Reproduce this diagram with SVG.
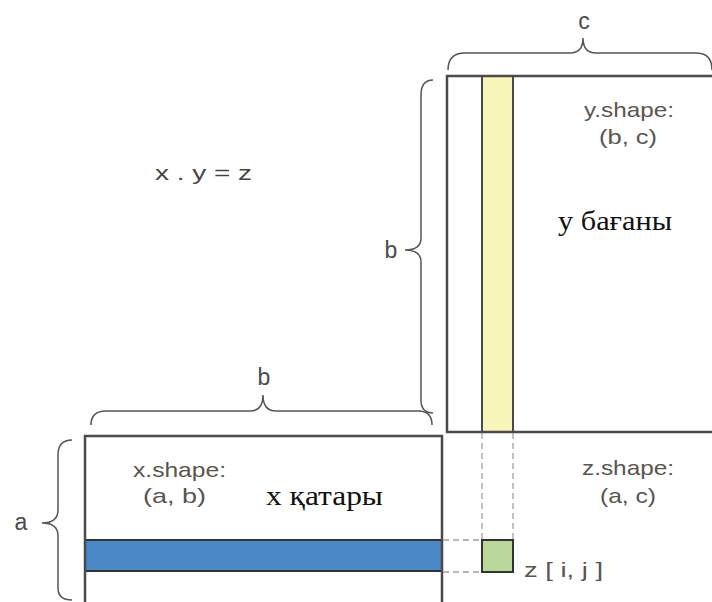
<svg xmlns="http://www.w3.org/2000/svg" width="712" height="602" viewBox="0 0 712 602">
<style>
.brace{fill:none;stroke:#555;stroke-width:1.5}
.frame{fill:none;stroke:#4a4a4a;stroke-width:2.5}
.lbl{font-family:"Liberation Sans",Arial,sans-serif;font-size:21px;fill:#5a5550}
.dim{font-family:"Liberation Sans",Arial,sans-serif;font-size:23px;fill:#4a4a4a;text-anchor:middle}
.ser{font-family:"Liberation Serif","Times New Roman",serif;font-size:27px;fill:#111}
.dash{fill:none;stroke:#a0a0a0;stroke-width:1.3;stroke-dasharray:6,4}
</style>
<rect width="712" height="602" fill="#fff"/>
<text x="155" y="180" class="lbl" style="fill:#444" textLength="97" lengthAdjust="spacingAndGlyphs">x . y = z</text>
<g id="braces">
<path class="brace" d="M448,70 Q448,53 465,53 L570,53 Q583,53 583,38 Q583,53 596,53 L696,53 Q712,53 712,70"/>
<text x="584" y="29" class="dim">c</text>
<path class="brace" d="M433,80 Q421,80 421,95 L421,238 Q421,250 405,250 Q421,250 421,262 L421,400 Q421,413 433,413"/>
<text x="391" y="258" class="dim">b</text>
<path class="brace" d="M91,425 Q91,411 106,411 L250,411 Q263,411 263,395 Q263,411 276,411 L418,411 Q432,411 432,425"/>
<text x="264" y="385" class="dim">b</text>
<path class="brace" d="M72,440 Q58,440 58,455 L58,510 Q58,523 42,523 Q58,523 58,536 L58,588 Q58,600 72,600"/>
<text x="21" y="530" class="dim">a</text>
</g>
<g id="y">
<rect x="482" y="76" width="31" height="356" fill="#f7f5b8" stroke="#4a4a4a" stroke-width="2"/>
<path class="frame" d="M712,76 L447,76 L447,432 L712,432"/>
<text x="584" y="117" class="lbl" textLength="90" lengthAdjust="spacingAndGlyphs">y.shape:</text>
<text x="599" y="144" class="lbl" textLength="58" lengthAdjust="spacingAndGlyphs">(b, c)</text>
<text x="558" y="230" class="ser" textLength="114" lengthAdjust="spacingAndGlyphs">у бағаны</text>
</g>
<g id="x">
<rect x="85" y="540" width="357" height="31" fill="#4a88c7" stroke="#333" stroke-width="2"/>
<path class="frame" d="M85,602 L85,436 L442,436 L442,602"/>
<text x="133" y="477" class="lbl" textLength="93" lengthAdjust="spacingAndGlyphs">x.shape:</text>
<text x="143" y="503" class="lbl" textLength="63" lengthAdjust="spacingAndGlyphs">(a, b)</text>
<text x="266" y="505" class="ser" textLength="117" lengthAdjust="spacingAndGlyphs">x қатары</text>
</g>
<g id="z">
<text x="582" y="475" class="lbl" textLength="92" lengthAdjust="spacingAndGlyphs">z.shape:</text>
<text x="600" y="503" class="lbl" textLength="56" lengthAdjust="spacingAndGlyphs">(a, c)</text>
<rect x="482" y="540" width="31" height="32" fill="#b9d89a" stroke="#333" stroke-width="2"/>
<text x="524" y="577" class="lbl" textLength="79" lengthAdjust="spacingAndGlyphs">z [ i,  j ]</text>
</g>
<g id="connectors">
<path class="dash" d="M482,433 L482,540 M513,433 L513,540 M443,540 L482,540 M443,572 L482,572"/>
</g>
</svg>
